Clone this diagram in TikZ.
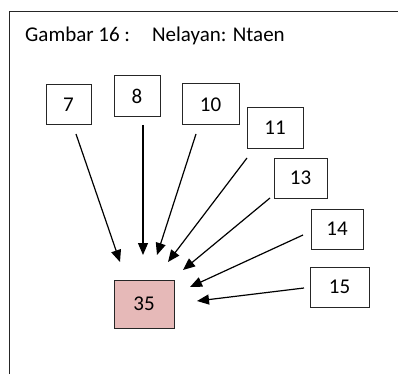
\documentclass[tikz,border=0pt]{standalone}
\usepackage{fontspec}
\setmainfont{Carlito}
\usetikzlibrary{arrows.meta}
\definecolor{pinkfill}{HTML}{E6B9B8}
\definecolor{edge}{HTML}{262626}
\begin{document}
\begin{tikzpicture}[x=1pt,y=-1pt,
  numbox/.style={draw=edge,line width=1pt,inner sep=0pt,font=\fontsize{21}{25}\selectfont},
  arr/.style={draw=black,line width=1.2pt,-{Triangle[length=12pt,width=10pt]}}]
\useasboundingbox (0,0) rectangle (398,374);
\draw[line width=1pt,edge] (9,374) -- (9,12) -- (398,12);
\node[anchor=base west,font=\fontsize{21}{25}\selectfont,inner sep=0pt] (title) at (25,42) {Gambar 16 :\hspace{22pt}Nelayan: Ntaen};
\node[numbox,minimum width=45pt,minimum height=40pt] (n7) at (68.5,105) {7};
\node[numbox,minimum width=46pt,minimum height=41pt] (n8) at (137,96.5) {8};
\node[numbox,minimum width=57pt,minimum height=41pt] (n10) at (210.5,104.5) {10};
\node[numbox,minimum width=56pt,minimum height=40pt] (n11) at (275,128) {11};
\node[numbox,minimum width=53pt,minimum height=40pt] (n13) at (300.5,178) {13};
\node[numbox,minimum width=52pt,minimum height=40pt] (n14) at (337,229) {14};
\node[numbox,minimum width=59pt,minimum height=40pt] (n15) at (339.5,287) {15};
\node[numbox,fill=pinkfill,minimum width=60pt,minimum height=48pt] (n35) at (144,304) {35};
\coordinate (s7) at (76,134);   \coordinate (t7) at (120,262);
\coordinate (s8) at (143,125);  \coordinate (t8) at (143,255);
\coordinate (s10) at (196,134); \coordinate (t10) at (157,255);
\coordinate (s11) at (247,158); \coordinate (t11) at (168,262);
\coordinate (s13) at (270,198); \coordinate (t13) at (183,270);
\coordinate (s14) at (303,235); \coordinate (t14) at (190,287);
\coordinate (s15) at (304,288); \coordinate (t15) at (197,301);
\draw[arr] (s7) -- (t7);
\draw[arr] (s8) -- (t8);
\draw[arr] (s10) -- (t10);
\draw[arr] (s11) -- (t11);
\draw[arr] (s13) -- (t13);
\draw[arr] (s14) -- (t14);
\draw[arr] (s15) -- (t15);
\end{tikzpicture}
\end{document}
